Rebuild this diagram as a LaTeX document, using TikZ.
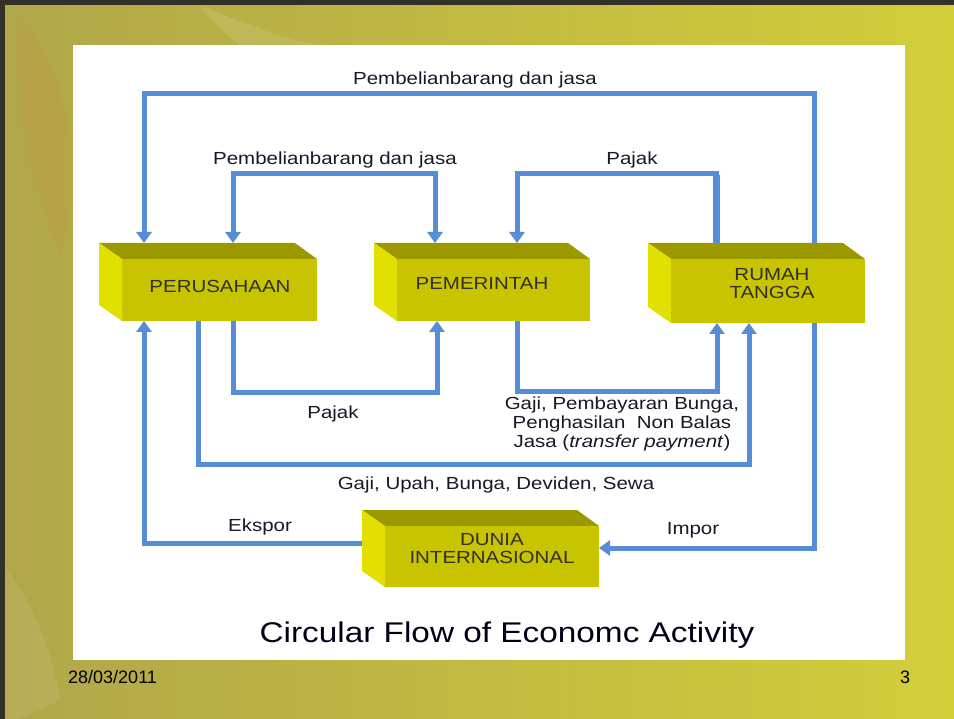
\documentclass[tikz,border=0pt]{standalone}
\usepackage{fontspec}
\setmainfont{Liberation Sans}
\newfontfamily\lblfont{Liberation Sans}[FakeStretch=1.17]
\usetikzlibrary{arrows.meta}

\definecolor{flowblue}{RGB}{86,141,214}
\definecolor{boxfront}{RGB}{200,196,0}
\definecolor{boxtop}{RGB}{156,152,0}
\definecolor{boxleft}{RGB}{226,224,0}
\definecolor{txt}{RGB}{24,24,40}
\definecolor{bgl}{RGB}{176,166,74}
\definecolor{bgr}{RGB}{210,206,58}
\definecolor{blot}{RGB}{214,140,60}

\newcommand\cuboid[5]{%
  \fill[boxtop] (#2,#3) -- ({#4-22},#3) -- (#4,{#3+16}) -- ({#2+23},{#3+16}) -- cycle;
  \fill[boxleft] (#2,#3) -- ({#2+23},{#3+16}) -- ({#2+23},#5) -- (#2,{#5-16}) -- cycle;
  \fill[boxfront] ({#2+23},{#3+16}) rectangle (#4,#5);
  \node[inner sep=0pt, outer sep=0pt, minimum width={#4-#2}, minimum height={#5-#3}] (#1) at ({(#2+#4)/2},{(#3+#5)/2}) {};
}

\begin{document}
\begin{tikzpicture}[x=1pt,y=-1pt,
  >={Triangle[width=15pt,length=11pt]},
  flow/.style={draw=flowblue, line width=5pt, line join=miter},
  lbl/.style={font=\lblfont\fontsize{17.5}{19}\selectfont, text=txt, inner sep=0pt, align=center},
  boxlbl/.style={font=\lblfont\fontsize{17.5}{18}\selectfont, text=black!85!olive, inner sep=0pt, align=center}]

% background slide
\useasboundingbox (0,0) rectangle (954,719);
\shade[left color=bgl, right color=bgr] (0,0) rectangle (954,719);
\fill[blot, opacity=0.15] (20,20) .. controls (60,60) and (90,150) .. (60,260) .. controls (40,200) and (10,120) .. (20,20);
\fill[white, opacity=0.10] (200,5) .. controls (260,30) and (300,45) .. (330,45) -- (240,45) .. controls (220,30) and (205,15) .. (200,5);
\fill[white, opacity=0.08] (0,560) .. controls (30,600) and (50,640) .. (60,700) -- (20,719) -- (0,719) -- cycle;
\fill[black!85!olive] (0,0) rectangle (954,5);
\fill[black!85!olive] (0,0) rectangle (5,719);
\fill[white] (73,45) rectangle (905,660);

% boxes
\cuboid{perus}{99}{243}{317}{321}
\cuboid{pemer}{374}{243}{590}{321}
\cuboid{rumah}{648}{243}{865}{323}
\cuboid{dunia}{362}{510}{599}{587}

\node[boxlbl, anchor=base] (perus-t) at (220,292.3) {PERUSAHAAN};
\node[boxlbl, anchor=base] (pemer-t) at (482,289.3) {PEMERINTAH};
\node[boxlbl] (rumah-t) at (772,284) {RUMAH\\TANGGA};
\node[boxlbl] (dunia-t) at (492,549) {DUNIA\\INTERNASIONAL};

% bend points
\coordinate (o1) at (814,94);
\coordinate (o2) at (144,94);
\coordinate (i1) at (233,174);
\coordinate (i2) at (435,174);
\coordinate (p1) at (716,174);
\coordinate (p2) at (517,174);
\coordinate (q1) at (233,393);
\coordinate (q2) at (437,393);
\coordinate (g1) at (517,392);
\coordinate (g2) at (717,392);
\coordinate (u1) at (198,465);
\coordinate (u2) at (749,465);
\coordinate (m1) at (814,548);
\coordinate (e1) at (144,543);

% connectors
\draw[flow,->] (rumah.north -| o1) -- (o1) -- (o2) -- (perus.north -| o2);
\draw[flow,<->] (perus.north -| i1) -- (i1) -- (i2) -- (pemer.north -| i2);
\draw[flow,->] (rumah.north -| p1) -- (p1) -- (p2) -- (pemer.north -| p2);
\draw[draw=flowblue, line width=7pt] (rumah.north -| p1) -- ([yshift=-1pt]p1);
\draw[flow,->] (perus.south -| q1) -- (q1) -- (q2) -- (pemer.south -| q2);
\draw[flow,->] (pemer.south -| g1) -- (g1) -- (g2) -- (rumah.south -| g2);
\draw[flow,->] (perus.south -| u1) -- (u1) -- (u2) -- (rumah.south -| u2);
\draw[flow,->] (rumah.south -| m1) -- (m1) -- (dunia.east |- m1);
\draw[flow,->] (dunia.west |- e1) -- (e1) -- (perus.south -| e1);

% labels
\node[lbl, anchor=base] (l-outer) at (475,84.3) {Pembelianbarang dan jasa};
\node[lbl, anchor=base] (l-inner) at (335,164.3) {Pembelianbarang dan jasa};
\node[lbl, anchor=base] (l-pajak1) at (632,164.3) {Pajak};
\node[lbl, anchor=base] (l-pajak2) at (333,418.3) {Pajak};
\node[lbl] (l-gaji1) at (622,423.5) {Gaji, Pembayaran Bunga,\\Penghasilan\ \ Non Balas\\Jasa (\textit{transfer payment})};
\node[lbl, anchor=base] (l-gaji2) at (496,489.3) {Gaji, Upah, Bunga, Deviden, Sewa};
\node[lbl, anchor=base] (l-ekspor) at (260,531.3) {Ekspor};
\node[lbl, anchor=base] (l-impor) at (693,534.3) {Impor};

% title and footer
\node[font=\lblfont\fontsize{28.5}{30}\selectfont, text=black!90!blue, inner sep=0pt, anchor=base] (title) at (507,642) {Circular Flow of Economc Activity};
\node[font=\fontsize{18}{20}\selectfont, text=black, inner sep=0pt, anchor=base west] (date) at (68,683.5) {28/03/2011};
\node[font=\fontsize{18}{20}\selectfont, text=black, inner sep=0pt, anchor=base] (page) at (905,683.5) {3};
\end{tikzpicture}
\end{document}
